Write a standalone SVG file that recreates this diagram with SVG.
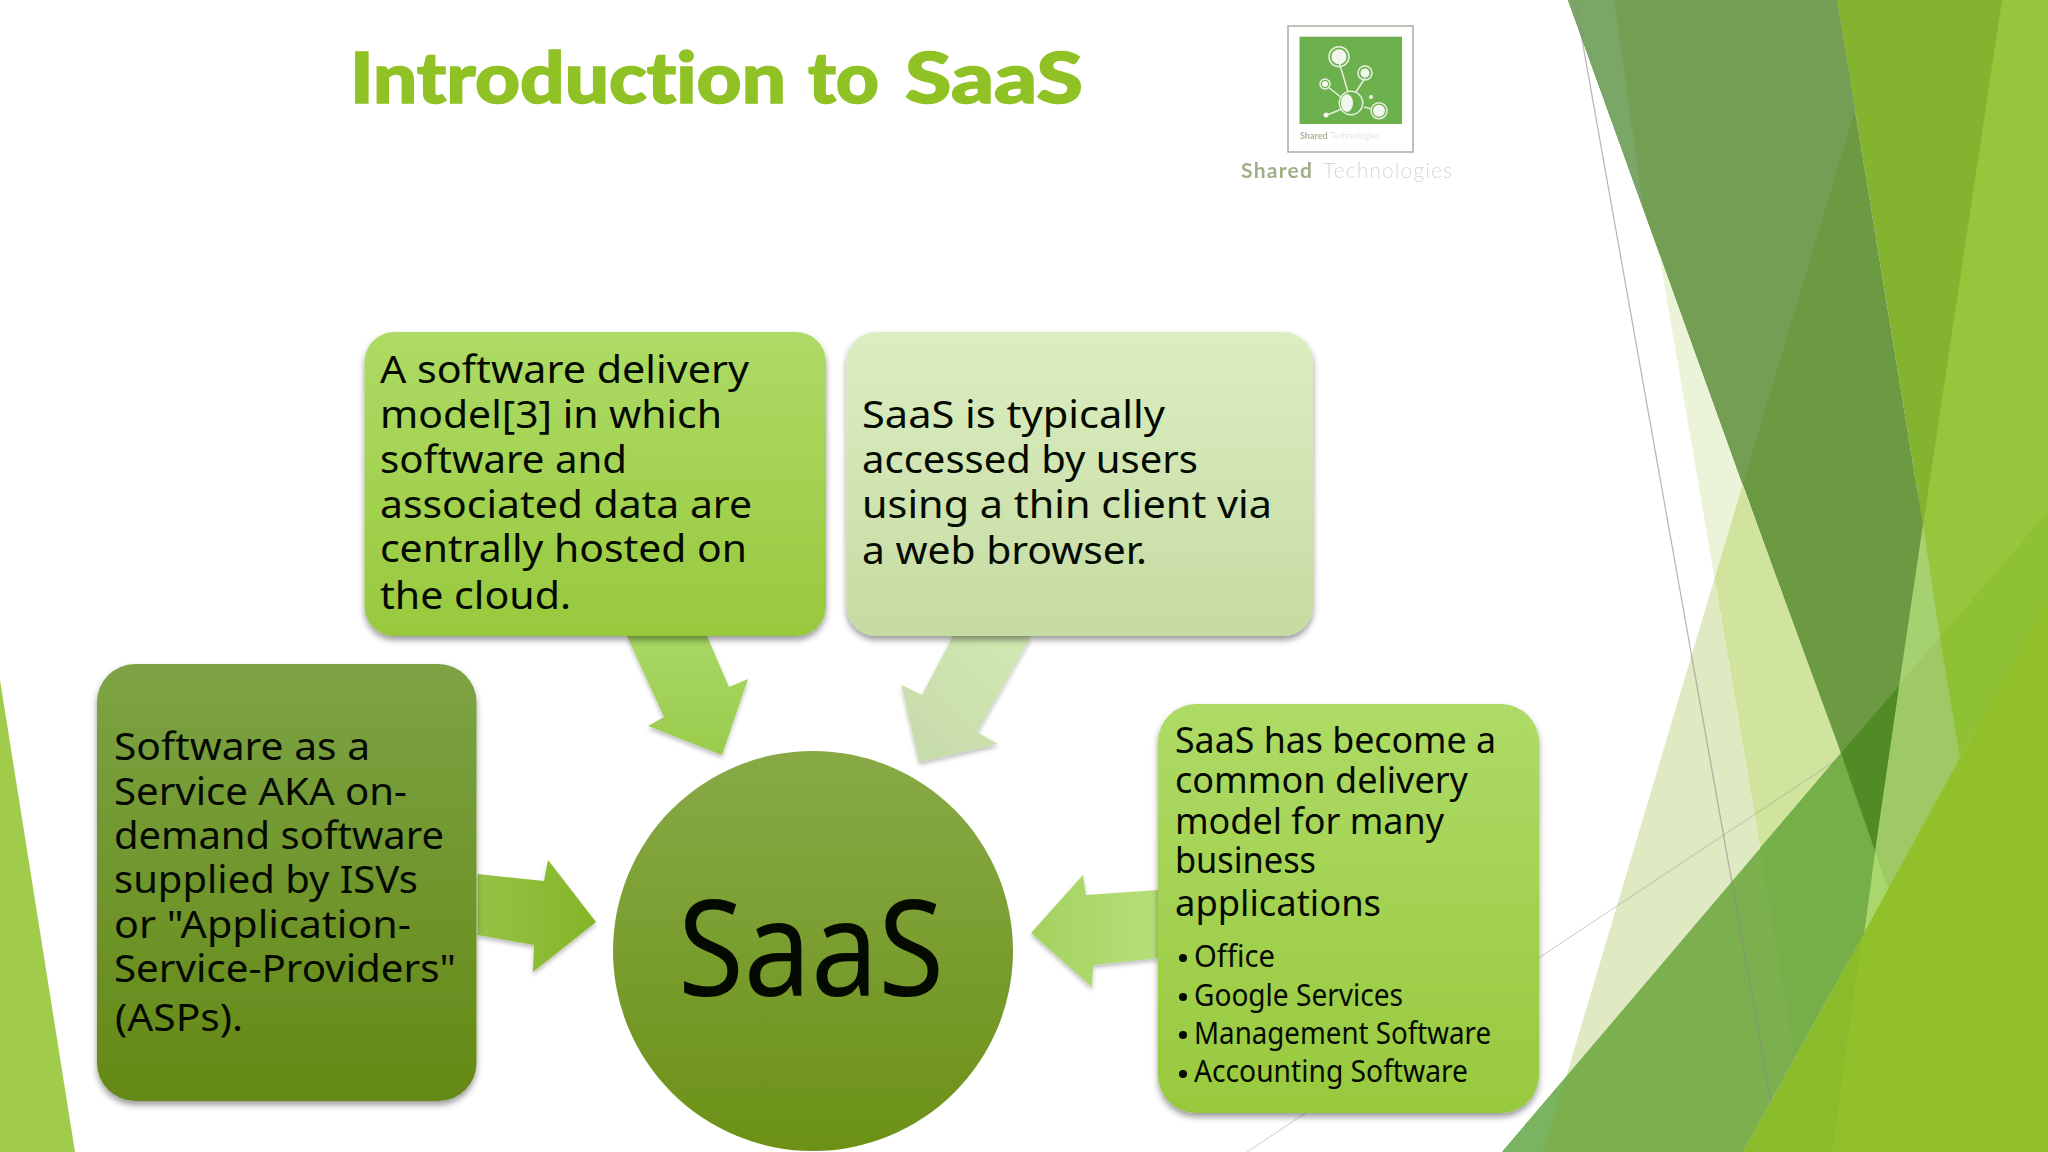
<svg xmlns="http://www.w3.org/2000/svg" width="2048" height="1152" viewBox="0 0 2048 1152">
<style>
text{font-family:"Noto Sans","DejaVu Sans",sans-serif;fill:#050a00;font-variant-ligatures:none}
.t{font-size:39px}
.s{font-size:36px}
.b{font-size:30px}
.logo{font-family:"Lato","Noto Sans",sans-serif}
</style>
<defs>
<filter id="sh" x="-10%" y="-10%" width="120%" height="120%"><feDropShadow dx="0" dy="4" stdDeviation="3" flood-color="#000" flood-opacity="0.4"/></filter>
<filter id="sa" x="-10%" y="-10%" width="120%" height="120%"><feDropShadow dx="0" dy="3" stdDeviation="2" flood-color="#000" flood-opacity="0.25"/></filter>
<filter id="bl" x="-5%" y="-5%" width="110%" height="110%"><feGaussianBlur stdDeviation="0.7"/></filter>
<linearGradient id="g1" x1="0" y1="0" x2="0" y2="1"><stop offset="0" stop-color="#7DA345"/><stop offset="1" stop-color="#648915"/></linearGradient>
<linearGradient id="g2" x1="0" y1="0" x2="0" y2="1"><stop offset="0" stop-color="#AEDB66"/><stop offset="1" stop-color="#98C93D"/></linearGradient>
<linearGradient id="g3" x1="0" y1="0" x2="0" y2="1"><stop offset="0" stop-color="#DCEEC2"/><stop offset="1" stop-color="#C5DBA1"/></linearGradient>
<linearGradient id="gc" x1="0" y1="0" x2="0" y2="1"><stop offset="0" stop-color="#87AA47"/><stop offset="1" stop-color="#6C9116"/></linearGradient>
<linearGradient id="a1" x1="0" y1="0" x2="1" y2="0"><stop offset="0" stop-color="#94C347"/><stop offset="1" stop-color="#84B526"/></linearGradient>
<linearGradient id="a2" x1="0" y1="0" x2="0" y2="1"><stop offset="0" stop-color="#A8D865"/><stop offset="1" stop-color="#9ACB4C"/></linearGradient>
<linearGradient id="a3" x1="1" y1="0" x2="0" y2="1"><stop offset="0" stop-color="#D2E9B2"/><stop offset="1" stop-color="#C6DAAA"/></linearGradient>
<linearGradient id="a4" x1="1" y1="0" x2="0" y2="0"><stop offset="0" stop-color="#B6DF7A"/><stop offset="1" stop-color="#A4D25E"/></linearGradient>
</defs>
<rect width="2048" height="1152" fill="#fff"/>
<g id="background">
<polygon points="0,680 75,1152 0,1152" fill="#A0CB4B"/>
<polygon points="1990,0 2048,0 2048,1152 1820,1152" fill="#97C53B"/>
<polygon points="1837,0 2002,0 1923,525" fill="#83B32F"/>
<polygon points="1568,0 1837,0 1923,525 1899,690 1875,851" fill="#6B9A43"/>
<polygon points="1568,0 1837,0 1855,110 1742.5,485" fill="#759E55"/>
<polygon points="1568,0 1614,0 1643.5,209" fill="#7AA666"/>
<polygon points="1923,525 1940,637 1899,686" fill="#A6D170"/>
<polygon points="1899,686 1940,637 1960,757 1888,889 1875,851" fill="#9FC964"/>
<polygon points="1940,637 2048,512 2048,600 1960,757" fill="#8FC135"/>
<polygon points="1743,1152 2048,600 2048,1152" fill="#92C02B"/>
<polygon points="1743,1152 1862,937 1832,1152" fill="#8ABB2A"/>
<polygon points="1875,851 1888,889 1864,933" fill="#A9D76C"/>
<polygon points="1659,253 1742.5,485 1714.5,578.5" fill="#EBF3D9"/>
<polygon points="1742.5,485 1841,753 1760,848 1714.5,578.5" fill="#D0E49E"/>
<polygon points="1714.5,578.5 1760,848 1566,1077" fill="#DFEAC2"/>
<polygon points="1841,753 1875,851 1864,933 1743,1152 1502,1152" fill="#7CB04F"/>
<polygon points="1760,848 1841,753 1875,851 1864,933 1795,1056" fill="#76AF48"/>
<polygon points="1566,1077 1502,1152 1542,1152" fill="#7AB460"/>
<polygon points="1841,753 1899,686 1875,851" fill="#508B25"/>
<line x1="1575" y1="0" x2="1771" y2="1102" stroke="#8a8a8a" stroke-opacity="0.6" stroke-width="1.3"/>
<line x1="1247" y1="1152" x2="1841" y2="757" stroke="#8a8a8a" stroke-opacity="0.45" stroke-width="1"/>
</g>
<g id="title"><text class="logo" y="103" font-size="70" font-weight="900" style="fill:#90C226;stroke:#90C226;stroke-width:1.5"><tspan x="350" textLength="436" lengthAdjust="spacingAndGlyphs">Introduction</tspan> <tspan x="808" textLength="71" lengthAdjust="spacingAndGlyphs">to</tspan> <tspan x="905" textLength="178" lengthAdjust="spacingAndGlyphs">SaaS</tspan></text></g>
<g id="logo" filter="url(#bl)">
<rect x="1288" y="26" width="125" height="126" fill="#fff" stroke="#a9ad9f" stroke-width="1.5"/>
<rect x="1299.5" y="36.7" width="102.5" height="87.3" fill="#6DB14F"/>
<g stroke="#E6F1DE" stroke-width="1.5" fill="none">
<line x1="1339" y1="62" x2="1348" y2="92"/><line x1="1365" y1="78" x2="1356" y2="92"/><line x1="1328" y1="87" x2="1342" y2="98"/><line x1="1327" y1="115" x2="1342" y2="109"/><line x1="1364" y1="107" x2="1372" y2="109"/>
<circle cx="1351" cy="103" r="11.7"/><circle cx="1339" cy="56.7" r="10"/><circle cx="1365" cy="73" r="7"/><circle cx="1325" cy="84" r="5"/><circle cx="1379" cy="110.7" r="8"/>
</g>
<g fill="#F2F7EE"><ellipse cx="1347" cy="103" rx="6" ry="9"/><circle cx="1339" cy="56.7" r="7.5"/><circle cx="1365" cy="73" r="4.5"/><circle cx="1325" cy="84" r="3"/><circle cx="1379" cy="110.7" r="6"/><circle cx="1326" cy="115" r="2.5"/><circle cx="1371" cy="97" r="2"/></g>
<text class="logo" x="1300" y="139" font-size="9" font-weight="700" style="fill:#A7B49C">Shared <tspan font-weight="300" style="fill:#D5D8D2">Technologies</tspan></text>
<text class="logo" x="1241" y="178" font-size="21" font-weight="700" style="fill:#9DB088" textLength="71">Shared</text>
<text class="logo" x="1323" y="178" font-size="21" font-weight="300" style="fill:#D6D8D4" textLength="129">Technologies</text>
</g>
<g id="connectors">
<polygon filter="url(#sa)" fill="url(#a1)" points="477.6,874 544,881 548,860 596,922 533,972 534,945 477.6,935"/>
<polygon filter="url(#sa)" fill="url(#a2)" points="627,636 707,636 729,687 748,679 722,755 648,726 664,717"/>
<polygon filter="url(#sa)" fill="url(#a3)" points="953,636 1031,636 977,732 998,744 919,762 901.5,685 922,695"/>
<polygon filter="url(#sa)" fill="url(#a4)" points="1158,890 1086,895 1083,875 1031,933 1092,987 1093,965 1158,958"/>
</g>
<g id="node-saas"><circle cx="813" cy="951" r="200" fill="url(#gc)"/>
<text x="678" y="996" font-size="134" textLength="266" lengthAdjust="spacingAndGlyphs">SaaS</text></g>
<g id="node-definition"><rect x="97" y="664" width="379.5" height="437" rx="38" fill="url(#g1)" filter="url(#sh)"/>
<text class="t" x="114" y="760" textLength="256" lengthAdjust="spacingAndGlyphs">Software as a</text>
<text class="t" x="114" y="805" textLength="293" lengthAdjust="spacingAndGlyphs">Service AKA on-</text>
<text class="t" x="114" y="849" textLength="330" lengthAdjust="spacingAndGlyphs">demand software</text>
<text class="t" x="114" y="893" textLength="304" lengthAdjust="spacingAndGlyphs">supplied by ISVs</text>
<text class="t" x="114" y="938" textLength="297" lengthAdjust="spacingAndGlyphs">or "Application-</text>
<text class="t" x="114" y="982" textLength="342" lengthAdjust="spacingAndGlyphs">Service-Providers"</text>
<text class="t" x="115" y="1031" textLength="128" lengthAdjust="spacingAndGlyphs">(ASPs).</text></g>
<g id="node-delivery"><rect x="364.5" y="332" width="461.5" height="304" rx="30" fill="url(#g2)" filter="url(#sh)"/>
<text class="t" x="380" y="383" textLength="369" lengthAdjust="spacingAndGlyphs">A software delivery</text>
<text class="t" x="380" y="428" textLength="342" lengthAdjust="spacingAndGlyphs">model[3] in which</text>
<text class="t" x="380" y="473" textLength="247" lengthAdjust="spacingAndGlyphs">software and</text>
<text class="t" x="380" y="518" textLength="372" lengthAdjust="spacingAndGlyphs">associated data are</text>
<text class="t" x="380" y="562" textLength="367" lengthAdjust="spacingAndGlyphs">centrally hosted on</text>
<text class="t" x="380" y="609" textLength="191" lengthAdjust="spacingAndGlyphs">the cloud.</text></g>
<g id="node-access"><rect x="846.5" y="332" width="466.5" height="304" rx="30" fill="url(#g3)" filter="url(#sh)"/>
<text class="t" x="862" y="428" textLength="303" lengthAdjust="spacingAndGlyphs">SaaS is typically</text>
<text class="t" x="862" y="473" textLength="336" lengthAdjust="spacingAndGlyphs">accessed by users</text>
<text class="t" x="862" y="518" textLength="410" lengthAdjust="spacingAndGlyphs">using a thin client via</text>
<text class="t" x="862" y="564" textLength="285" lengthAdjust="spacingAndGlyphs">a web browser.</text></g>
<g id="node-applications"><rect x="1158" y="704" width="381" height="409" rx="38" fill="url(#g2)" filter="url(#sh)"/>
<text class="s" x="1175" y="753" textLength="321" lengthAdjust="spacingAndGlyphs">SaaS has become a</text>
<text class="s" x="1175" y="793" textLength="293" lengthAdjust="spacingAndGlyphs">common delivery</text>
<text class="s" x="1175" y="834" textLength="269" lengthAdjust="spacingAndGlyphs">model for many</text>
<text class="s" x="1175" y="873" textLength="141" lengthAdjust="spacingAndGlyphs">business</text>
<text class="s" x="1175" y="916" textLength="206" lengthAdjust="spacingAndGlyphs">applications</text>
<g fill="#050a00"><circle cx="1183" cy="958" r="4"/><circle cx="1183" cy="997" r="4"/><circle cx="1183" cy="1035" r="4"/><circle cx="1183" cy="1074" r="4"/></g>
<text class="b" x="1194" y="967" textLength="81" lengthAdjust="spacingAndGlyphs">Office</text>
<text class="b" x="1194" y="1006" textLength="209" lengthAdjust="spacingAndGlyphs">Google Services</text>
<text class="b" x="1194" y="1044" textLength="297" lengthAdjust="spacingAndGlyphs">Management Software</text>
<text class="b" x="1194" y="1082" textLength="274" lengthAdjust="spacingAndGlyphs">Accounting Software</text></g>
</svg>
